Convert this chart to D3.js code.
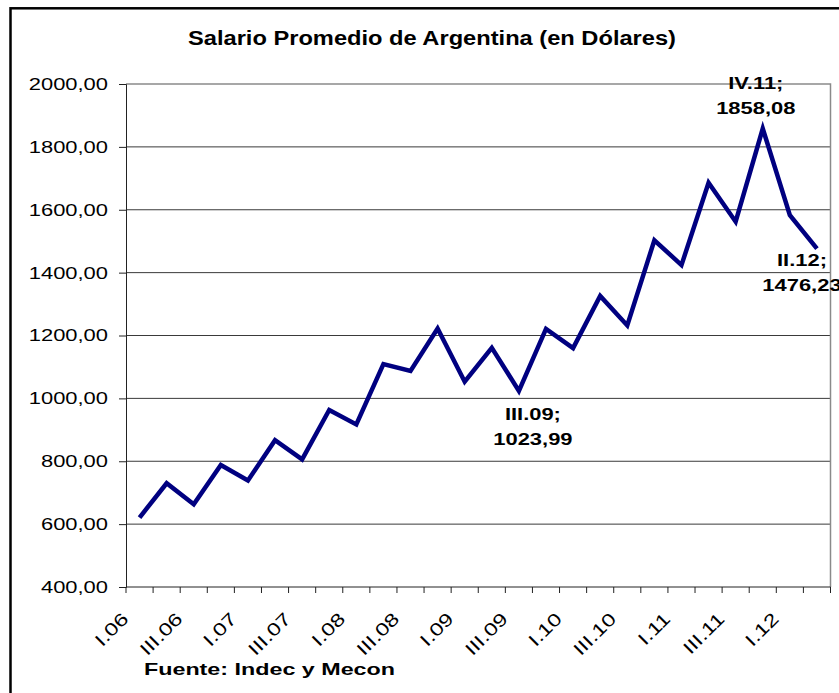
<!DOCTYPE html>
<html>
<head>
<meta charset="utf-8">
<script src="https://cdnjs.cloudflare.com/ajax/libs/d3/7.8.5/d3.min.js"></script>
<style>
  body { margin: 0; background: #fff; }
  text { font-family: "Liberation Sans", Arial, sans-serif; fill: #000; }
</style>
</head>
<body>
<svg id="chart" width="839" height="693"></svg>
<script>
"use strict";

// Quarterly average salary, in dollars
var quarters = ["I.06", "II.06", "III.06", "IV.06",
                "I.07", "II.07", "III.07", "IV.07",
                "I.08", "II.08", "III.08", "IV.08",
                "I.09", "II.09", "III.09", "IV.09",
                "I.10", "II.10", "III.10", "IV.10",
                "I.11", "II.11", "III.11", "IV.11",
                "I.12", "II.12"];
var salaries = [621, 730, 663, 788,
                739, 867, 806, 963,
                917, 1109, 1087, 1222,
                1053, 1161, 1023.99, 1221,
                1160, 1326, 1232, 1503,
                1424, 1686, 1562, 1858.08,
                1583, 1476.23];
var yTicks = [400, 600, 800, 1000, 1200, 1400, 1600, 1800, 2000];
// only every other quarter gets a label on the axis
var xTickLabels = quarters.filter(function(q, i) { return i % 2 === 0; });
var labelled = ["III.09", "IV.11", "II.12"];

var titleText = "Salario Promedio de Argentina (en Dólares)";
var sourceText = "Fuente: Indec y Mecon";

// the original picture is stretched sideways, so text is too
var SX = 1.29;

var svg = d3.select("#chart");
var plot = { left: 126, right: 830.5, top: 84, bottom: 587 };

var locale = d3.formatLocale({ decimal: ",", thousands: ".", grouping: [3], currency: ["$", ""] });
var fmt = locale.format(".2f");

var x = d3.scaleBand().domain(quarters).range([plot.left, plot.right]).padding(0);
var y = d3.scaleLinear().domain([400, 2000]).range([plot.bottom, plot.top]);
function cx(q) { return x(q) + x.bandwidth() / 2; }

// outer chart frame
svg.append("rect")
    .attr("x", 10.5).attr("y", 8.3)
    .attr("width", 900).attr("height", 800)
    .attr("fill", "none").attr("stroke", "#000").attr("stroke-width", 2.5);

// title
svg.append("text")
    .attr("x", 432).attr("y", 45)
    .attr("text-anchor", "middle")
    .attr("font-size", 20).attr("font-weight", "bold")
    .attr("textLength", 488).attr("lengthAdjust", "spacingAndGlyphs")
    .text(titleText);

// gridlines
svg.append("g").selectAll("line")
    .data(yTicks.filter(function(v) { return v > 400 && v < 2000; }))
    .join("line")
    .attr("x1", plot.left).attr("x2", plot.right)
    .attr("y1", function(d) { return y(d); }).attr("y2", function(d) { return y(d); })
    .attr("stroke", "#3a3a3a").attr("stroke-width", 1);

// plot area border (top + right), grey like in Excel
svg.append("path")
    .attr("d", "M" + plot.left + "," + y(2000) + "H" + plot.right + "V" + plot.bottom)
    .attr("fill", "none").attr("stroke", "#8a8a8a").attr("stroke-width", 1.5);

// y axis
var yAxis = svg.append("g")
    .attr("transform", "translate(" + plot.left + ",0)")
    .call(d3.axisLeft(y).tickValues(yTicks).tickSize(7).tickFormat(fmt));
yAxis.select(".domain").attr("stroke", "#222");
yAxis.selectAll(".tick line").attr("stroke", "#222");
yAxis.selectAll(".tick text")
    .attr("x", 0)
    .attr("transform", "translate(-18,0) scale(" + SX + ",1)")
    .attr("font-size", 17)
    .attr("fill", "#000");

// x axis: labels from d3, tick marks on the band edges
var xAxis = svg.append("g")
    .attr("transform", "translate(0," + plot.bottom + ")")
    .call(d3.axisBottom(x).tickValues(xTickLabels).tickSize(0).tickPadding(0));
xAxis.select(".domain").remove();
xAxis.selectAll(".tick text")
    .attr("y", 0).attr("dy", 0)
    .attr("text-anchor", "end")
    .attr("transform", "translate(-10,33) rotate(-45) scale(" + SX + ",1)")
    .attr("font-size", 18)
    .attr("fill", "#000");

svg.append("line")
    .attr("x1", plot.left).attr("x2", plot.right)
    .attr("y1", plot.bottom).attr("y2", plot.bottom)
    .attr("stroke", "#222");

var edges = quarters.map(function(q) { return x(q); }).concat([x.range()[1]]);
svg.append("g").selectAll("line")
    .data(edges)
    .join("line")
    .attr("x1", function(d) { return d; }).attr("x2", function(d) { return d; })
    .attr("y1", plot.bottom).attr("y2", plot.bottom + 6)
    .attr("stroke", "#222");

// the salary line
var line = d3.line()
    .x(function(d, i) { return cx(quarters[i]); })
    .y(function(d) { return y(d); });

svg.append("path")
    .datum(salaries)
    .attr("d", line)
    .attr("fill", "none")
    .attr("stroke", "#000080")
    .attr("stroke-width", 4.5)
    .attr("stroke-linejoin", "miter");

// data labels: "quarter;" over the value, offsets from the point
var labelOffsets = {
    "III.09": { dx: 14, dy: 29 },
    "IV.11": { dx: -7, dy: -40 },
    "II.12": { dx: -15, dy: 17 }
};

labelled.forEach(function(q) {
    var i = quarters.indexOf(q);
    var off = labelOffsets[q];
    var g = svg.append("g")
        .attr("transform", "translate(" + (cx(q) + off.dx) + "," + (y(salaries[i]) + off.dy) + ")");
    g.append("text")
        .attr("text-anchor", "middle")
        .attr("transform", "scale(" + SX + ",1)")
        .attr("font-size", 17).attr("font-weight", "bold")
        .text(q + ";");
    g.append("text")
        .attr("y", 25)
        .attr("text-anchor", "middle")
        .attr("transform", "scale(" + SX + ",1)")
        .attr("font-size", 17).attr("font-weight", "bold")
        .text(fmt(salaries[i]));
});

// source note
svg.append("text")
    .attr("x", 144).attr("y", 675)
    .attr("font-size", 17).attr("font-weight", "bold")
    .attr("textLength", 251).attr("lengthAdjust", "spacingAndGlyphs")
    .text(sourceText);
</script>
</body>
</html>
